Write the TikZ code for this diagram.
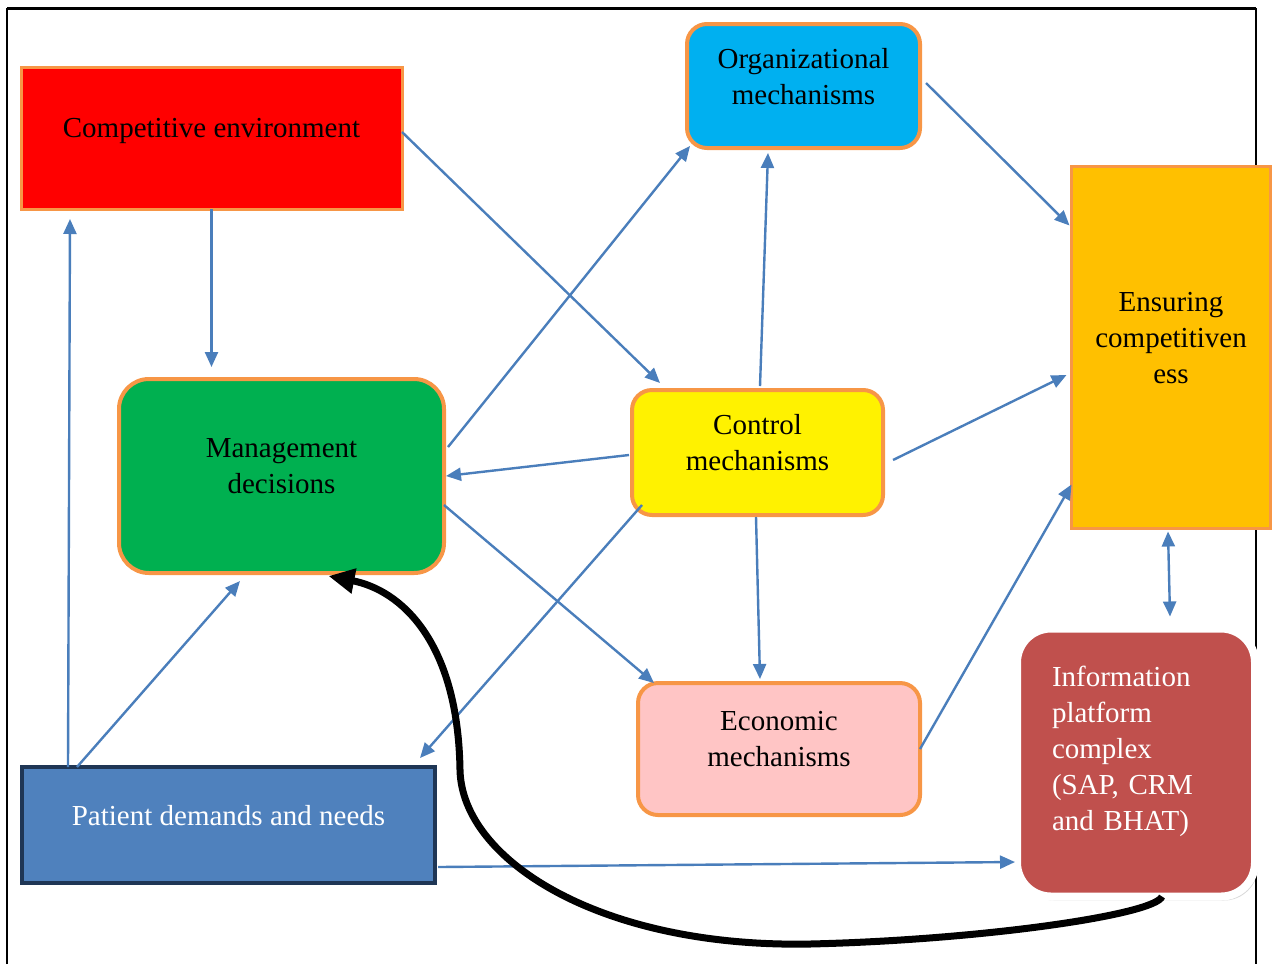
\documentclass[tikz,border=0pt]{standalone}
\usepackage{fontspec}
\setmainfont{Liberation Serif}
\usetikzlibrary{calc,arrows.meta,shadows}

\definecolor{rim}{HTML}{F79646}
\definecolor{flowc}{HTML}{4A7EBB}
\definecolor{navy}{HTML}{1F3655}
\definecolor{orgc}{HTML}{00B0F0}
\definecolor{ensc}{HTML}{FFC000}
\definecolor{mgmtc}{HTML}{00B050}
\definecolor{econc}{HTML}{FFC5C5}
\definecolor{patc}{HTML}{4F81BD}
\definecolor{infoc}{HTML}{C0504D}

\tikzset{
	block/.style={draw=rim, line width=2pt, outer sep=0pt, align=center,
		font=\fontsize{14.5pt}{18pt}\selectfont,
		execute at end node={\rule[-10pt]{0pt}{0pt}}},
	rblock/.style={block, rounded corners=#1},
	rblock/.default=10pt,
	dims/.style 2 args={minimum width=#1*0.5pt, minimum height=#2*0.5pt},
	flow/.style={draw=flowc, line width=1.2pt, ->},
}

\begin{document}
\begin{tikzpicture}[x=0.5pt, y=-0.5pt, >={Triangle[length=7.5pt,width=6.5pt]}]
	\useasboundingbox (0,0) rectangle (1277,964);
	\draw[line width=1.5pt] (7,8) -- (1256,8);
	\draw[line width=0.8pt] (7,964) -- (7,8) (1256,8) -- (1256,964);
	%
	\node[block, line width=1.5pt, fill=red, dims={381}{142}] (cenv) at (211.5,138) {Competitive environment};
	\node[rblock, fill=orgc, dims={233}{124}] (org) at (803.5,86) {Organizational\\mechanisms};
	\node[block, line width=1.5pt, fill=ensc, dims={199}{362}] (ens) at (1171,347.5) {Ensuring\\competitiven\\ess};
	\node[rblock=15pt, fill=mgmtc, dims={325}{194}] (mgmt) at (281.5,476) {Management\\decisions};
	\node[rblock, fill=yellow, dims={251}{125}] (ctrl) at (757.5,452.5) {Control\\mechanisms};
	\node[rblock, fill=econc, dims={282}{132}] (econ) at (779,749) {Economic\\mechanisms};
	\node[block, draw=navy, fill=patc, text=white, dims={413}{116}] (pat) at (228.5,825) {Patient demands and needs};
	\node[rblock=17pt, draw=white, line width=4pt, fill=infoc, text=white, align=left, text width=84pt,
		execute at end node={\rule[-14pt]{0pt}{0pt}},
		dims={238}{268}, drop shadow={opacity=0.3, shadow xshift=1.5pt, shadow yshift=-2pt}] (info) at (1136,762.5)
		{Information\\platform\\complex\\(SAP, CRM\\and BHAT)};
	%
	\draw[flow] (cenv.south) -- ($(cenv.south |- mgmt.north)+(0,-12)$);
	\draw[flow] ($(cenv.east)+(0,-6)$) -- ($(ctrl.north west)+(28,-7)$);
	\draw[flow] ($(pat.north west)+(46,0)$) -- ($(cenv.south west)+(49,10)$);
	\draw[flow] ($(pat.north west)+(55,0)$) -- ($(mgmt.south)+(-41.5,8)$);
	\draw[flow] ($(mgmt.east)+(4,-29)$) -- ($(org.south west)+(3,-2)$);
	\draw[flow] ($(ctrl.west)+(-3,2.5)$) -- ($(mgmt.east)+(2,0)$);
	\draw[flow] ($(mgmt.east)+(0,29)$) -- ($(econ.north west)+(16,0)$);
	\draw[flow] ($(ctrl.north)+(2.5,-4)$) -- ($(org.south)+(-35.5,5)$);
	\draw[flow] ($(ctrl.south west)+(10,-10)$) -- ($(pat.north east)+(-15,-9)$);
	\draw[flow] ($(ctrl.south)+(-1.5,2)$) -- ($(econ.north)+(-19,-4)$);
	\draw[flow] ($(org.east)+(6,-3)$) -- ($(ens.north west)+(-2,59)$);
	\draw[flow] ($(ctrl.east)+(10,7.5)$) -- ($(ens.west)+(-5,27.5)$);
	\draw[flow] (econ.east) -- ($(ens.south west)+(0,-44)$);
	\draw[flow, <->] ($(ens.south)+(-3,3)$) -- ($(info.north)+(34,-12)$);
	\draw[flow] ($(pat.east)+(3,42)$) -- ($(info.west)+(-2,99.5)$);
	%
	\draw[line width=3.5pt, -{Triangle[length=13pt,width=12pt]}] ($(info.south)+(26,0)$)
		.. controls (1155,915) and (980,940) .. (810,944)
		.. controls (600,948) and (462,860) .. (460,770)
		.. controls (458,640) and (400,590) .. ($(mgmt.south)+(47,3)$);
\end{tikzpicture}
\end{document}
